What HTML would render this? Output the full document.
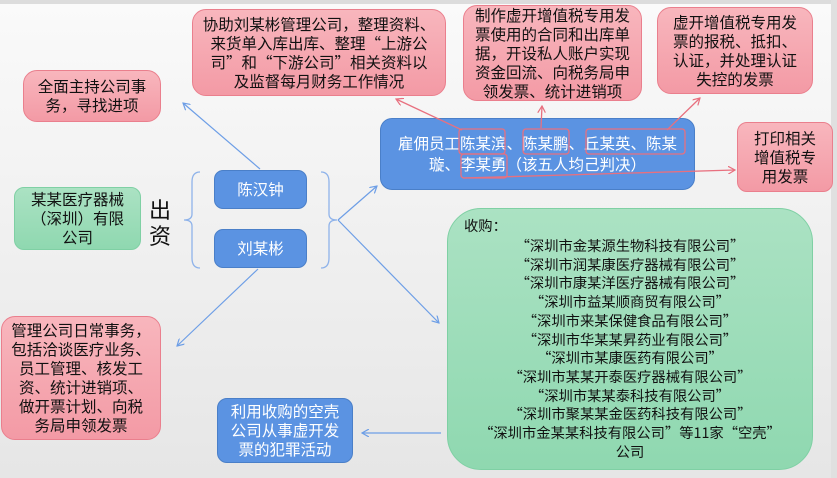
<!DOCTYPE html>
<html><head><meta charset="utf-8"><style>
body{margin:0;width:837px;height:478px;overflow:hidden;font-family:"Noto Sans CJK SC","Liberation Sans",sans-serif;}
#bg{position:absolute;left:0;top:0;width:837px;height:478px;background:linear-gradient(#fafafa,#e6e6e6);}
#bg:before{content:"";position:absolute;left:0;top:0;width:837px;height:4px;background:#dcdcdc}
#bg:after{content:"";position:absolute;right:0;top:0;width:6px;height:478px;background:#e0e0e0}
.b{position:absolute;box-sizing:border-box;display:flex;align-items:center;justify-content:center;text-align:center;font-size:15.5px;line-height:19px;border-radius:14px;white-space:nowrap}
.p{background:linear-gradient(#f8b6bd,#f39aa5);border:1.5px solid #ea7f8d;color:#111}
.u{background:#5b93e2;border:1.5px solid #4a7fc8;color:#fff;border-radius:9px}
.g{background:linear-gradient(#abe2c3,#8fd8b0);border:1.5px solid #7fd0a4;color:#111}
</style></head><body><div id="bg"></div>
<div class="b p" style="left:23px;top:70px;width:138px;height:52px">全面主持公司事<br>务，寻找进项</div>
<div class="b p" style="left:192px;top:9px;width:254px;height:87px">协助刘某彬管理公司，整理资料、<br>来货单入库出库、整理“上游公<br>司”和“下游公司”相关资料以<br>及监督每月财务工作情况</div>
<div class="b p" style="left:463px;top:5px;width:179px;height:96px">制作虚开增值税专用发<br>票使用的合同和出库单<br>据，开设私人账户实现<br>资金回流、向税务局申<br>领发票、统计进销项</div>
<div class="b p" style="left:657px;top:7px;width:156px;height:87px">虚开增值税专用发<br>票的报税、抵扣、<br>认证，并处理认证<br>失控的发票</div>
<div class="b u" style="left:380px;top:118px;width:315px;height:72px;border-radius:12px;line-height:21px">雇佣员工陈某滨、陈某鹏、丘某英、陈某<br>璇、李某勇（该五人均己判决）</div>
<div class="b p" style="left:737px;top:122px;width:96px;height:70px;border-radius:10px">打印相关<br>增值税专<br>用发票</div>
<div class="b g" style="left:14px;top:187px;width:127px;height:63px;border-radius:10px">某某医疗器械<br>（深圳）有限<br>公司</div>
<div style="position:absolute;left:149px;top:196px;font-size:22px;line-height:26px;color:#111">出<br>资</div>
<div class="b u" style="left:214px;top:170px;width:93px;height:39px;font-size:15.5px">陈汉钟</div>
<div class="b u" style="left:214px;top:229px;width:93px;height:39px;font-size:15.5px">刘某彬</div>
<div class="b p" style="left:1px;top:316px;width:160px;height:124px;line-height:19px">管理公司日常事务，<br>包括洽谈医疗业务、<br>员工管理、核发工<br>资、统计进销项、<br>做开票计划、向税<br>务局申领发票</div>
<div class="b u" style="left:217px;top:398px;width:136px;height:65px;border-radius:10px">利用收购的空壳<br>公司从事虚开发<br>票的犯罪活动</div>
<div class="b g" style="left:447px;top:208px;width:366px;height:262px;border-radius:34px;font-size:14.3px;line-height:18.7px;display:block">
<div style="position:absolute;left:16px;top:8px">收购：</div>
<div style="position:absolute;left:0;right:0;top:28px;text-align:center">“深圳市金某源生物科技有限公司”<br>“深圳市润某康医疗器械有限公司”<br>“深圳市康某洋医疗器械有限公司”<br>“深圳市益某顺商贸有限公司”<br>“深圳市来某保健食品有限公司”<br>“深圳市华某某昇药业有限公司”<br>“深圳市某康医药有限公司”<br>“深圳市某某开泰医疗器械有限公司”<br>“深圳市某某泰科技有限公司”<br>“深圳市聚某某金医药科技有限公司”<br>“深圳市金某某科技有限公司”等11家“空壳”<br>公司</div></div>
<svg style="position:absolute;left:0;top:0" width="837" height="478">
<defs><marker id="ab" markerWidth="8" markerHeight="8" refX="7" refY="4" orient="auto" markerUnits="userSpaceOnUse"><path d="M0,0 L7,4 L0,8" fill="none" stroke="#6d9ee6" stroke-width="1.2"/></marker>
<marker id="ar" markerWidth="8" markerHeight="8" refX="7" refY="4" orient="auto" markerUnits="userSpaceOnUse"><path d="M0,0 L7,4 L0,8" fill="none" stroke="#e8707f" stroke-width="1.2"/></marker></defs>
<g fill="none" stroke="#8fb3ea" stroke-width="1.3">
<path d="M200,172 Q192,172 192,182 L192,214 Q192,220 184,220 Q192,220 192,226 L192,258 Q192,268 200,268"/>
<path d="M321,172 Q329,172 329,182 L329,214 Q329,220 337,220 Q329,220 329,226 L329,258 Q329,268 321,268"/>
</g>
<g stroke="#6d9ee6" stroke-width="1.2" fill="none" marker-end="url(#ab)">
<line x1="338" y1="220" x2="377" y2="186"/>
<line x1="338" y1="220" x2="439" y2="323"/>
<line x1="260" y1="169" x2="183" y2="103"/>
<line x1="258" y1="269" x2="177" y2="346"/>
<line x1="441" y1="433" x2="362" y2="433"/>
</g>
<g stroke="#e8707f" stroke-width="1.3" fill="none">
<rect x="459" y="129" width="46" height="25" rx="3"/>
<rect x="523" y="129" width="46" height="25" rx="3"/>
<rect x="586" y="129" width="99" height="25" rx="3"/>
<rect x="461" y="154" width="46" height="24" rx="3"/>
<g marker-end="url(#ar)">
<line x1="462" y1="130" x2="396" y2="99"/>
<line x1="541" y1="128" x2="542" y2="106"/>
<line x1="667" y1="130" x2="700" y2="98"/>
<line x1="463" y1="178" x2="735" y2="170"/>
</g></g>
</svg>
</body></html>
